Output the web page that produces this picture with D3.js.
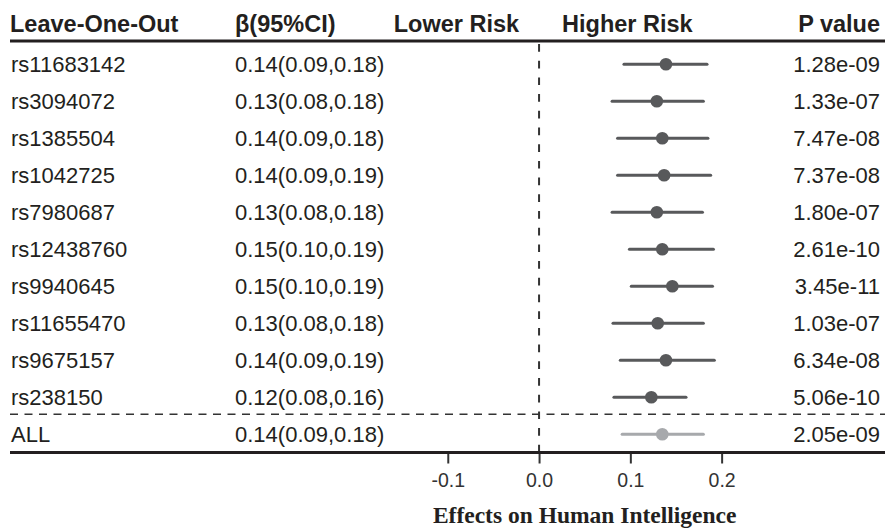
<!DOCTYPE html>
<html>
<head>
<meta charset="utf-8">
<script src="https://cdn.jsdelivr.net/npm/d3@7"></script>
<style>
  body { margin: 0; background: #fff; }
  svg { display: block; }
</style>
</head>
<body>
<div id="chart"></div>
<script>
// rows of the leave-one-out table
var snps = ["rs11683142", "rs3094072", "rs1385504", "rs1042725", "rs7980687",
            "rs12438760", "rs9940645", "rs11655470", "rs9675157", "rs238150", "ALL"];
var betaText = ["0.14(0.09,0.18)", "0.13(0.08,0.18)", "0.14(0.09,0.18)", "0.14(0.09,0.19)",
                "0.13(0.08,0.18)", "0.15(0.10,0.19)", "0.15(0.10,0.19)", "0.13(0.08,0.18)",
                "0.14(0.09,0.19)", "0.12(0.08,0.16)", "0.14(0.09,0.18)"];
var pText = ["1.28e-09", "1.33e-07", "7.47e-08", "7.37e-08", "1.80e-07", "2.61e-10",
             "3.45e-11", "1.03e-07", "6.34e-08", "5.06e-10", "2.05e-09"];
var beta  = [0.139, 0.129, 0.135, 0.137, 0.129, 0.135, 0.146, 0.130, 0.139, 0.123, 0.135];
var lower = [0.093, 0.080, 0.086, 0.086, 0.080, 0.099, 0.101, 0.081, 0.089, 0.082, 0.091];
var upper = [0.184, 0.180, 0.185, 0.188, 0.179, 0.191, 0.190, 0.180, 0.192, 0.161, 0.180];
var xTicks = [-0.1, 0.0, 0.1, 0.2];

var W = 885, H = 528;
var textColor = "#231f20";
var dotColor = "#58595b", allColor = "#a7a9ac";
var sans = "'Liberation Sans', Arial, Helvetica, sans-serif";

var headerLineY = 41, bottomLineY = 452.5, sepLineY = 414.3;

var svg = d3.select("#chart").append("svg")
  .attr("width", W)
  .attr("height", H)
  .style("font-family", sans);

var x = d3.scaleLinear().domain([-0.16, 0.26]).range([393, 776.4]);
var y = d3.scaleLinear().domain([0, snps.length - 1]).range([64.3, 434.3]);

// header
var header = svg.append("g")
  .style("font-weight", "bold")
  .style("font-size", "23.5px")
  .attr("fill", textColor);
header.append("text").attr("x", 10).attr("y", 32).text("Leave-One-Out");
header.append("text").attr("x", 235).attr("y", 32).text("β(95%CI)");
header.append("text").attr("x", x(0) - 20).attr("y", 32).attr("text-anchor", "end").text("Lower Risk");
header.append("text").attr("x", x(0) + 23).attr("y", 32).text("Higher Risk");
header.append("text").attr("x", 880).attr("y", 32).attr("text-anchor", "end").text("P value");

// rules
svg.append("line")
  .attr("x1", 10).attr("x2", W)
  .attr("y1", headerLineY).attr("y2", headerLineY)
  .style("stroke", textColor).style("stroke-width", 3);
svg.append("line")
  .attr("x1", 10).attr("x2", W)
  .attr("y1", sepLineY).attr("y2", sepLineY)
  .style("stroke", "#333").style("stroke-width", 1.6)
  .style("stroke-dasharray", "8,6.5");

// zero reference line
svg.append("line")
  .attr("x1", x(0)).attr("x2", x(0))
  .attr("y1", headerLineY + 3).attr("y2", bottomLineY)
  .style("stroke", "#333").style("stroke-width", 2)
  .style("stroke-dasharray", "7.7,9");

// table text
var rows = svg.selectAll(".row")
  .data(snps)
  .enter().append("g")
  .attr("class", "row")
  .attr("transform", function (d, i) { return "translate(0," + y(i) + ")"; })
  .style("font-size", "22px")
  .attr("fill", textColor);

rows.append("text").attr("x", 11).attr("y", 7.5).text(function (d) { return d; });
rows.append("text").attr("x", 235).attr("y", 7.5).text(function (d, i) { return betaText[i]; });
rows.append("text").attr("x", 880).attr("y", 7.5).attr("text-anchor", "end")
  .text(function (d, i) { return pText[i]; });

// CI lines and points
rows.append("line")
  .attr("x1", function (d, i) { return x(lower[i]); })
  .attr("x2", function (d, i) { return x(upper[i]); })
  .style("stroke", function (d, i) { return d == "ALL" ? allColor : dotColor; })
  .style("stroke-width", 3)
  .style("stroke-linecap", "round");

rows.append("circle")
  .attr("cx", function (d, i) { return x(beta[i]); })
  .attr("r", 6.3)
  .style("fill", function (d, i) { return d == "ALL" ? allColor : dotColor; });

// x axis
var axis = svg.append("g")
  .attr("transform", "translate(0," + bottomLineY + ")")
  .call(d3.axisBottom(x).tickValues(xTicks).tickSize(11).tickPadding(10)
    .tickFormat(function (d) { return d3.format(".1f")(d).replace("−", "-"); }));
axis.attr("font-size", null).attr("font-family", null)
  .style("font-size", "19.5px")
  .style("font-family", sans);
axis.select(".domain").remove();
axis.selectAll(".tick line").style("stroke", "#333").style("stroke-width", 2);
axis.selectAll(".tick text").attr("fill", "#333");

svg.append("line")
  .attr("x1", 10).attr("x2", W)
  .attr("y1", bottomLineY).attr("y2", bottomLineY)
  .style("stroke", textColor).style("stroke-width", 3);

svg.append("text")
  .attr("x", (x.range()[0] + x.range()[1]) / 2)
  .attr("y", 523)
  .attr("text-anchor", "middle")
  .style("font-family", "'Liberation Serif', 'Times New Roman', serif")
  .style("font-weight", "bold")
  .style("font-size", "23.5px")
  .attr("fill", textColor)
  .text("Effects on Human Intelligence");
</script>
</body>
</html>
